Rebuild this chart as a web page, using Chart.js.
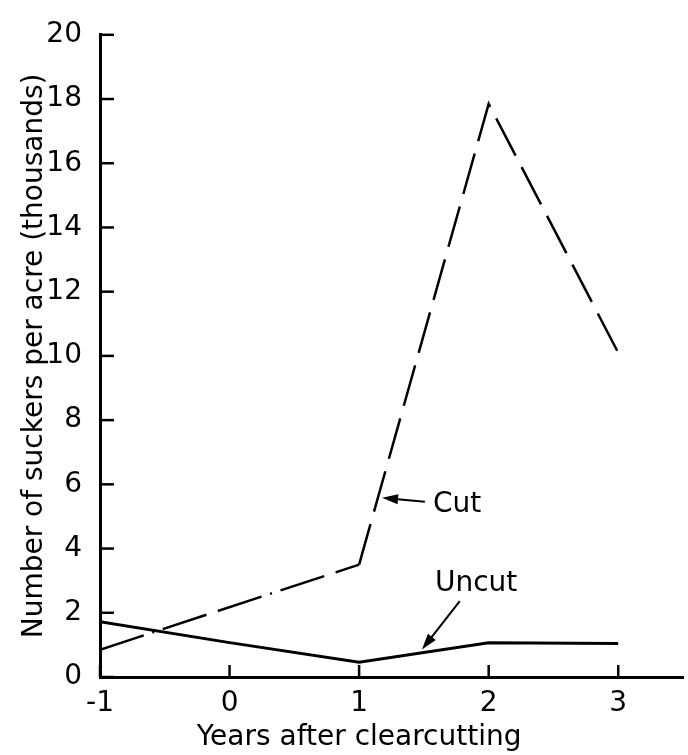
<!DOCTYPE html>
<html>
<head>
<meta charset="utf-8">
<script src="https://cdn.jsdelivr.net/npm/chart.js@4.4.1/dist/chart.umd.min.js"></script>
<style>
  html, body { margin: 0; padding: 0; background: #fff; }
  #wrap { width: 688px; height: 755px; }
</style>
</head>
<body>
<div id="wrap"><canvas id="chart" width="688" height="755"></canvas></div>
<script>
// Data (thousands of suckers per acre)
const cutYears = [-1, 1, 2, 3];
const cutValues = [0.85, 3.5, 17.85, 10.1];
const uncutYears = [-1, 0, 1, 2, 3];
const uncutValues = [1.72, 1.07, 0.46, 1.07, 1.04];
const xTickValues = [-1, 0, 1, 2, 3];

const FONT = '"DejaVu Sans", sans-serif';

// inside ticks, axis titles and the two arrow labels
const decorations = {
    id: 'decorations',
    afterDraw(chart) {
        const ctx = chart.ctx;
        const xs = chart.scales.x;
        const ys = chart.scales.y;
        const area = chart.chartArea;
        ctx.save();
        ctx.strokeStyle = '#000';
        ctx.fillStyle = '#000';
        ctx.lineWidth = 2.5;

        // y ticks pointing into the plot
        ys.ticks.forEach(t => {
            const py = ys.getPixelForValue(t.value);
            ctx.beginPath();
            ctx.moveTo(area.left, py);
            ctx.lineTo(area.left + 14, py);
            ctx.stroke();
        });
        // x ticks pointing up
        xs.ticks.forEach(t => {
            const px = xs.getPixelForValue(t.value);
            ctx.beginPath();
            ctx.moveTo(px, area.bottom);
            ctx.lineTo(px, area.bottom - 12);
            ctx.stroke();
        });

        // axis titles
        ctx.font = '28px ' + FONT;
        ctx.textAlign = 'center';
        ctx.textBaseline = 'alphabetic';
        ctx.fillText('Years after clearcutting', xs.getPixelForValue(1), 745);
        ctx.save();
        ctx.translate(42, (area.top + area.bottom) / 2);
        ctx.rotate(-Math.PI / 2);
        ctx.fillText('Number of suckers per acre (thousands)', 0, 0);
        ctx.restore();

        // labels with arrows
        ctx.lineWidth = 2;
        function arrow(x0, y0, x1, y1) {
            const ax = xs.getPixelForValue(x0), ay = ys.getPixelForValue(y0);
            const bx = xs.getPixelForValue(x1), by = ys.getPixelForValue(y1);
            const ang = Math.atan2(by - ay, bx - ax);
            const c = Math.cos(ang), s = Math.sin(ang);
            ctx.beginPath();
            ctx.moveTo(ax, ay);
            ctx.lineTo(bx - 10 * c, by - 10 * s);
            ctx.stroke();
            ctx.beginPath();
            ctx.moveTo(bx, by);
            ctx.lineTo(bx - 16 * c + 5 * s, by - 16 * s - 5 * c);
            ctx.lineTo(bx - 16 * c - 5 * s, by - 16 * s + 5 * c);
            ctx.closePath();
            ctx.fill();
        }
        ctx.textAlign = 'left';
        ctx.textBaseline = 'middle';
        ctx.fillText('Cut', xs.getPixelForValue(1.57), ys.getPixelForValue(5.37));
        arrow(1.508, 5.46, 1.177, 5.58);
        ctx.fillText('Uncut', xs.getPixelForValue(1.585), ys.getPixelForValue(2.91));
        arrow(1.777, 2.36, 1.485, 0.86);

        ctx.restore();
    }
};

const tickFont = { family: FONT, size: 28 };

new Chart(document.getElementById('chart').getContext('2d'), {
    type: 'line',
    data: {
        datasets: [
            {
                label: 'Cut',
                data: cutYears.map((x, i) => ({ x: x, y: cutValues[i] })),
                borderColor: '#000',
                borderWidth: 2.5,
                pointRadius: 0,
                fill: false,
                tension: 0,
                segment: {
                    borderDash: c => c.p0DataIndex === 0 ? [46, 9, 2, 9, 46, 12] : [42, 13]
                }
            },
            {
                label: 'Uncut',
                data: uncutYears.map((x, i) => ({ x: x, y: uncutValues[i] })),
                borderColor: '#000',
                borderWidth: 3,
                pointRadius: 0,
                fill: false,
                tension: 0
            }
        ]
    },
    options: {
        responsive: false,
        animation: false,
        layout: { padding: { top: 25, right: 5, left: 0, bottom: 0 } },
        plugins: {
            legend: { display: false },
            tooltip: { enabled: false }
        },
        scales: {
            x: {
                type: 'linear',
                min: -1,
                max: 3.5,
                afterBuildTicks: s => { s.ticks = xTickValues.map(v => ({ value: v })); },
                afterFit: s => { s.height = 78; },
                border: { display: true, color: '#000', width: 3 },
                grid: { drawOnChartArea: false, drawTicks: false },
                ticks: {
                    color: '#000',
                    font: tickFont,
                    padding: 10,
                    maxRotation: 0,
                    callback: v => String(v)
                }
            },
            y: {
                min: 0,
                max: 20,
                afterFit: s => { s.width = 100; },
                border: { display: true, color: '#000', width: 3 },
                grid: { drawOnChartArea: false, drawTicks: false },
                ticks: {
                    stepSize: 1,
                    color: '#000',
                    font: tickFont,
                    padding: 18,
                    callback: v => (v % 2 === 0 ? String(v) : '')
                }
            }
        }
    },
    plugins: [decorations]
});
</script>
</body>
</html>
